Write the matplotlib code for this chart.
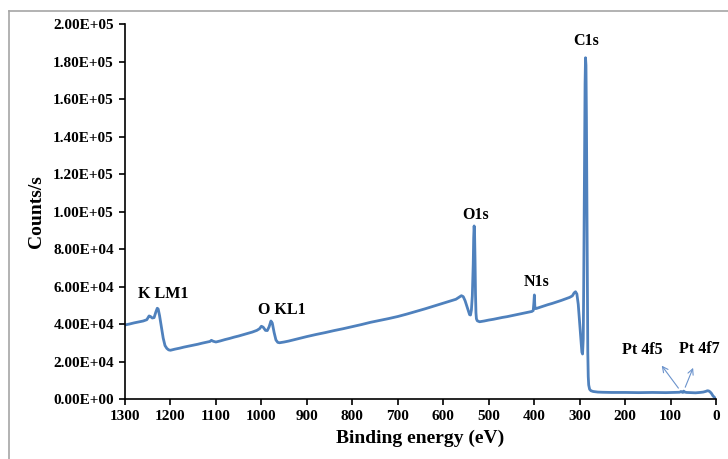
import matplotlib
matplotlib.use('Agg')
import matplotlib.pyplot as plt
from matplotlib.lines import Line2D

# XPS survey spectrum
binding_energy = [1300, 1290, 1280, 1270, 1260, 1252, 1247, 1244, 1240, 1236,
                  1232, 1229, 1227, 1224, 1220, 1216, 1212, 1208, 1204, 1200,
                  1190, 1180, 1170, 1160, 1150, 1140, 1130, 1120, 1113, 1110,
                  1106, 1100, 1090, 1080, 1070, 1060, 1050, 1040, 1030, 1020,
                  1010, 1004, 1000, 996, 991, 987, 983, 979, 976, 972,
                  968, 964, 960, 950, 940, 920, 900, 880, 860, 840,
                  820, 800, 780, 760, 740, 720, 700, 680, 660, 640,
                  620, 600, 585, 572, 565, 560, 556, 552, 548, 545,
                  542, 540, 538, 536, 534, 533, 532, 531, 530, 529,
                  528, 527, 525, 520, 510, 500, 490, 480, 470, 460,
                  450, 440, 430, 420, 410, 405, 402, 400.5, 399.5, 398.5,
                  397, 395, 390, 380, 370, 360, 350, 340, 330, 322,
                  316, 312, 309, 306, 303, 300, 297, 295, 293.5, 292,
                  291, 290, 289, 288, 287, 286, 285, 284, 283, 282,
                  281, 280, 278, 275, 270, 260, 250, 230, 200, 170,
                  140, 110, 90, 80, 77, 75, 73, 71, 69, 65,
                  55, 45, 35, 28, 22, 19, 16, 13, 10, 7,
                  4, 1]
counts = [39500, 40000, 40600, 41100, 41600, 42300, 44300, 44000, 43200, 43400,
          46500, 48400, 48000, 44500, 38500, 32500, 28500, 27000, 26200, 26000,
          26600, 27100, 27700, 28200, 28700, 29200, 29800, 30300, 30700, 31300,
          30800, 30400, 31000, 31700, 32300, 33000, 33600, 34300, 35000, 35700,
          36600, 37500, 38800, 38300, 36600, 36500, 38500, 41600, 40500, 35500,
          31500, 30200, 30000, 30400, 30900, 32100, 33300, 34400, 35400, 36500,
          37500, 38600, 39700, 40900, 41900, 42900, 44000, 45300, 46700, 48100,
          49600, 51100, 52200, 53200, 54300, 55100, 54600, 52500, 49500, 47200,
          45000, 44800, 47500, 55000, 72000, 86000, 92300, 88000, 74000, 56000,
          46000, 42800, 41700, 41200, 41600, 42100, 42500, 43000, 43500, 43900,
          44400, 44900, 45400, 45900, 46400, 46700, 47200, 51500, 55500, 49500,
          48200, 48300, 48700, 49500, 50300, 51000, 51800, 52600, 53500, 54200,
          55000, 56600, 57200, 56000, 50500, 41000, 31000, 25000, 24000, 32000,
          60000, 95000, 135000, 168000, 182000, 178000, 150000, 105000, 58000, 25000,
          12000, 7500, 5200, 4400, 4000, 3700, 3600, 3500, 3500, 3400,
          3500, 3400, 3500, 3600, 4000, 3700, 3500, 4200, 3700, 3500,
          3400, 3300, 3500, 3700, 4100, 4400, 4300, 3800, 3000, 1800,
          1000, 300]

peak_labels = ['C1s', 'O1s', 'N1s', 'K LM1', 'O KL1']
peak_label_x = [286, 529, 394, 1216, 955]
peak_label_y = [191000, 98000, 62500, 56000, 47500]

pt_labels = ['Pt 4f5', 'Pt 4f7']
pt_label_x = [163, 37]
pt_label_y = [26000, 26500]
pt_head_x = [123, 48]
pt_head_y = [19000, 18000]
pt_tail_x = [79, 70]
pt_tail_y = [4600, 4900]

serif = ['Liberation Serif', 'DejaVu Serif']
line_color = '#4F81BD'

fig = plt.figure(figsize=(7.28, 4.59), dpi=100)
ax = fig.add_axes([0.1717, 0.1307, 0.8118, 0.817])

ax.plot(binding_energy, counts, color=line_color, lw=2.0, solid_joinstyle='round')

ax.set_xlim(1300, 0)
ax.set_ylim(0, 200000)
ax.set_xticks(range(1300, -1, -100))
ax.set_yticks(range(0, 200001, 20000))
ax.set_yticklabels([f'{v:.2E}' for v in range(0, 200001, 20000)])

for s in ['top', 'right']:
    ax.spines[s].set_visible(False)
for s in ['left', 'bottom']:
    ax.spines[s].set_linewidth(1.2)
ax.tick_params(direction='out', length=4, width=1.2, pad=4)
for lab in ax.get_xticklabels() + ax.get_yticklabels():
    lab.set_family(serif)
    lab.set_fontweight('bold')
    lab.set_fontsize(11)

ax.set_xlabel('Binding energy (eV)', family=serif, fontweight='bold', fontsize=14, labelpad=5)
ax.set_ylabel('Counts/s', family=serif, fontweight='bold', fontsize=14, labelpad=6)

for t, x, y in zip(peak_labels, peak_label_x, peak_label_y):
    ax.text(x, y, t, ha='center', va='center', family=serif, fontweight='bold', fontsize=11.5)

for t, x, y in zip(pt_labels, pt_label_x, pt_label_y):
    ax.text(x, y, t, ha='center', va='center', family=serif, fontweight='bold', fontsize=11.5)
for hx, hy, tx, ty in zip(pt_head_x, pt_head_y, pt_tail_x, pt_tail_y):
    ax.annotate('', xy=(hx, hy), xytext=(tx, ty),
                arrowprops=dict(arrowstyle='->', color='#6B93CC', lw=0.8))

# grey frame round the figure (top and left edges visible)
fig.add_artist(Line2D([9 / 728, 1.0], [1 - 11 / 459, 1 - 11 / 459], transform=fig.transFigure,
                      color='#A6A6A6', lw=1.2))
fig.add_artist(Line2D([9 / 728, 9 / 728], [0.0, 1 - 11 / 459], transform=fig.transFigure,
                      color='#A6A6A6', lw=1.2))

fig.savefig('out.png', dpi=100)
